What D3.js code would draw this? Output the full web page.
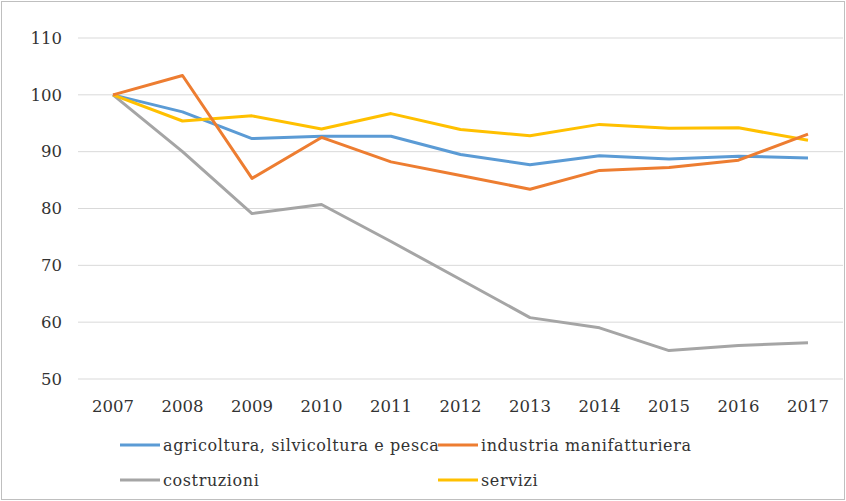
<!DOCTYPE html>
<html lang="it">
<head>
<meta charset="UTF-8">
<script src="https://d3js.org/d3.v7.min.js"></script>
<style>
  body { margin: 0; background: #fff; }
  text { font-family: "DejaVu Serif", serif; fill: #333; }
</style>
</head>
<body>
<div id="chart"></div>
<script>
// Values
const years = ["2007","2008","2009","2010","2011","2012","2013","2014","2015","2016","2017"];
const agricoltura = [100, 97, 92.3, 92.7, 92.7, 89.5, 87.7, 89.3, 88.7, 89.2, 88.9];
const industria = [100, 103.4, 85.3, 92.5, 88.2, 85.8, 83.4, 86.7, 87.2, 88.5, 93.1];
const costruzioni = [100, 90, 79.1, 80.7, 74.2, 67.5, 60.8, 59, 55, 55.9, 56.4];
const servizi = [100, 95.4, 96.3, 94, 96.7, 93.9, 92.8, 94.8, 94.1, 94.2, 92];
const yTicks = [50, 60, 70, 80, 90, 100, 110];

const series = [
  { name: "agricoltura, silvicoltura e pesca", values: agricoltura, color: "#5b9bd5" },
  { name: "industria manifatturiera", values: industria, color: "#ed7d31" },
  { name: "costruzioni", values: costruzioni, color: "#a5a5a5" },
  { name: "servizi", values: servizi, color: "#ffc000" }
];

const width = 846, height = 501;
const svg = d3.select("#chart").append("svg")
    .attr("width", width).attr("height", height);

svg.append("rect")
    .attr("x", 1.5).attr("y", 1.5).attr("width", width - 3).attr("height", height - 3)
    .attr("fill", "none").attr("stroke", "#bfbfbf");

const x = d3.scalePoint().domain(years).range([113, 808]);
const y = d3.scaleLinear().domain([50, 110]).range([379, 38]);

// gridlines
svg.append("g").selectAll("line").data(yTicks).join("line")
    .attr("x1", 78).attr("x2", 843)
    .attr("y1", d => y(d)).attr("y2", d => y(d))
    .attr("stroke", "#d9d9d9");

svg.append("g").selectAll("text").data(yTicks).join("text")
    .attr("x", 62).attr("y", d => y(d)).attr("dy", "0.35em")
    .attr("text-anchor", "end").attr("font-size", 16.5)
    .text(d => d);

svg.append("g").selectAll("text").data(years).join("text")
    .attr("x", d => x(d)).attr("y", 412)
    .attr("text-anchor", "middle").attr("font-size", 16.5)
    .text(d => d);

const line = d3.line().x((d, i) => x(years[i])).y(d => y(d));

// draw so yellow/orange sit on top like the reference
[2, 0, 3, 1].forEach(i => {
  svg.append("path")
      .datum(series[i].values)
      .attr("d", line)
      .attr("fill", "none")
      .attr("stroke", series[i].color)
      .attr("stroke-width", 3)
      .attr("stroke-linejoin", "round");
});

// legend
const legendPos = [[120, 445], [438, 445], [120, 480], [438, 480]];
series.forEach((s, i) => {
  const [lx, ly] = legendPos[i];
  svg.append("line")
      .attr("x1", lx).attr("x2", lx + 40).attr("y1", ly).attr("y2", ly)
      .attr("stroke", s.color).attr("stroke-width", 3);
  svg.append("text")
      .attr("x", lx + 43).attr("y", ly).attr("dy", "0.35em")
      .attr("font-size", 16).attr("letter-spacing", 0.6)
      .text(s.name);
});
</script>
</body>
</html>
